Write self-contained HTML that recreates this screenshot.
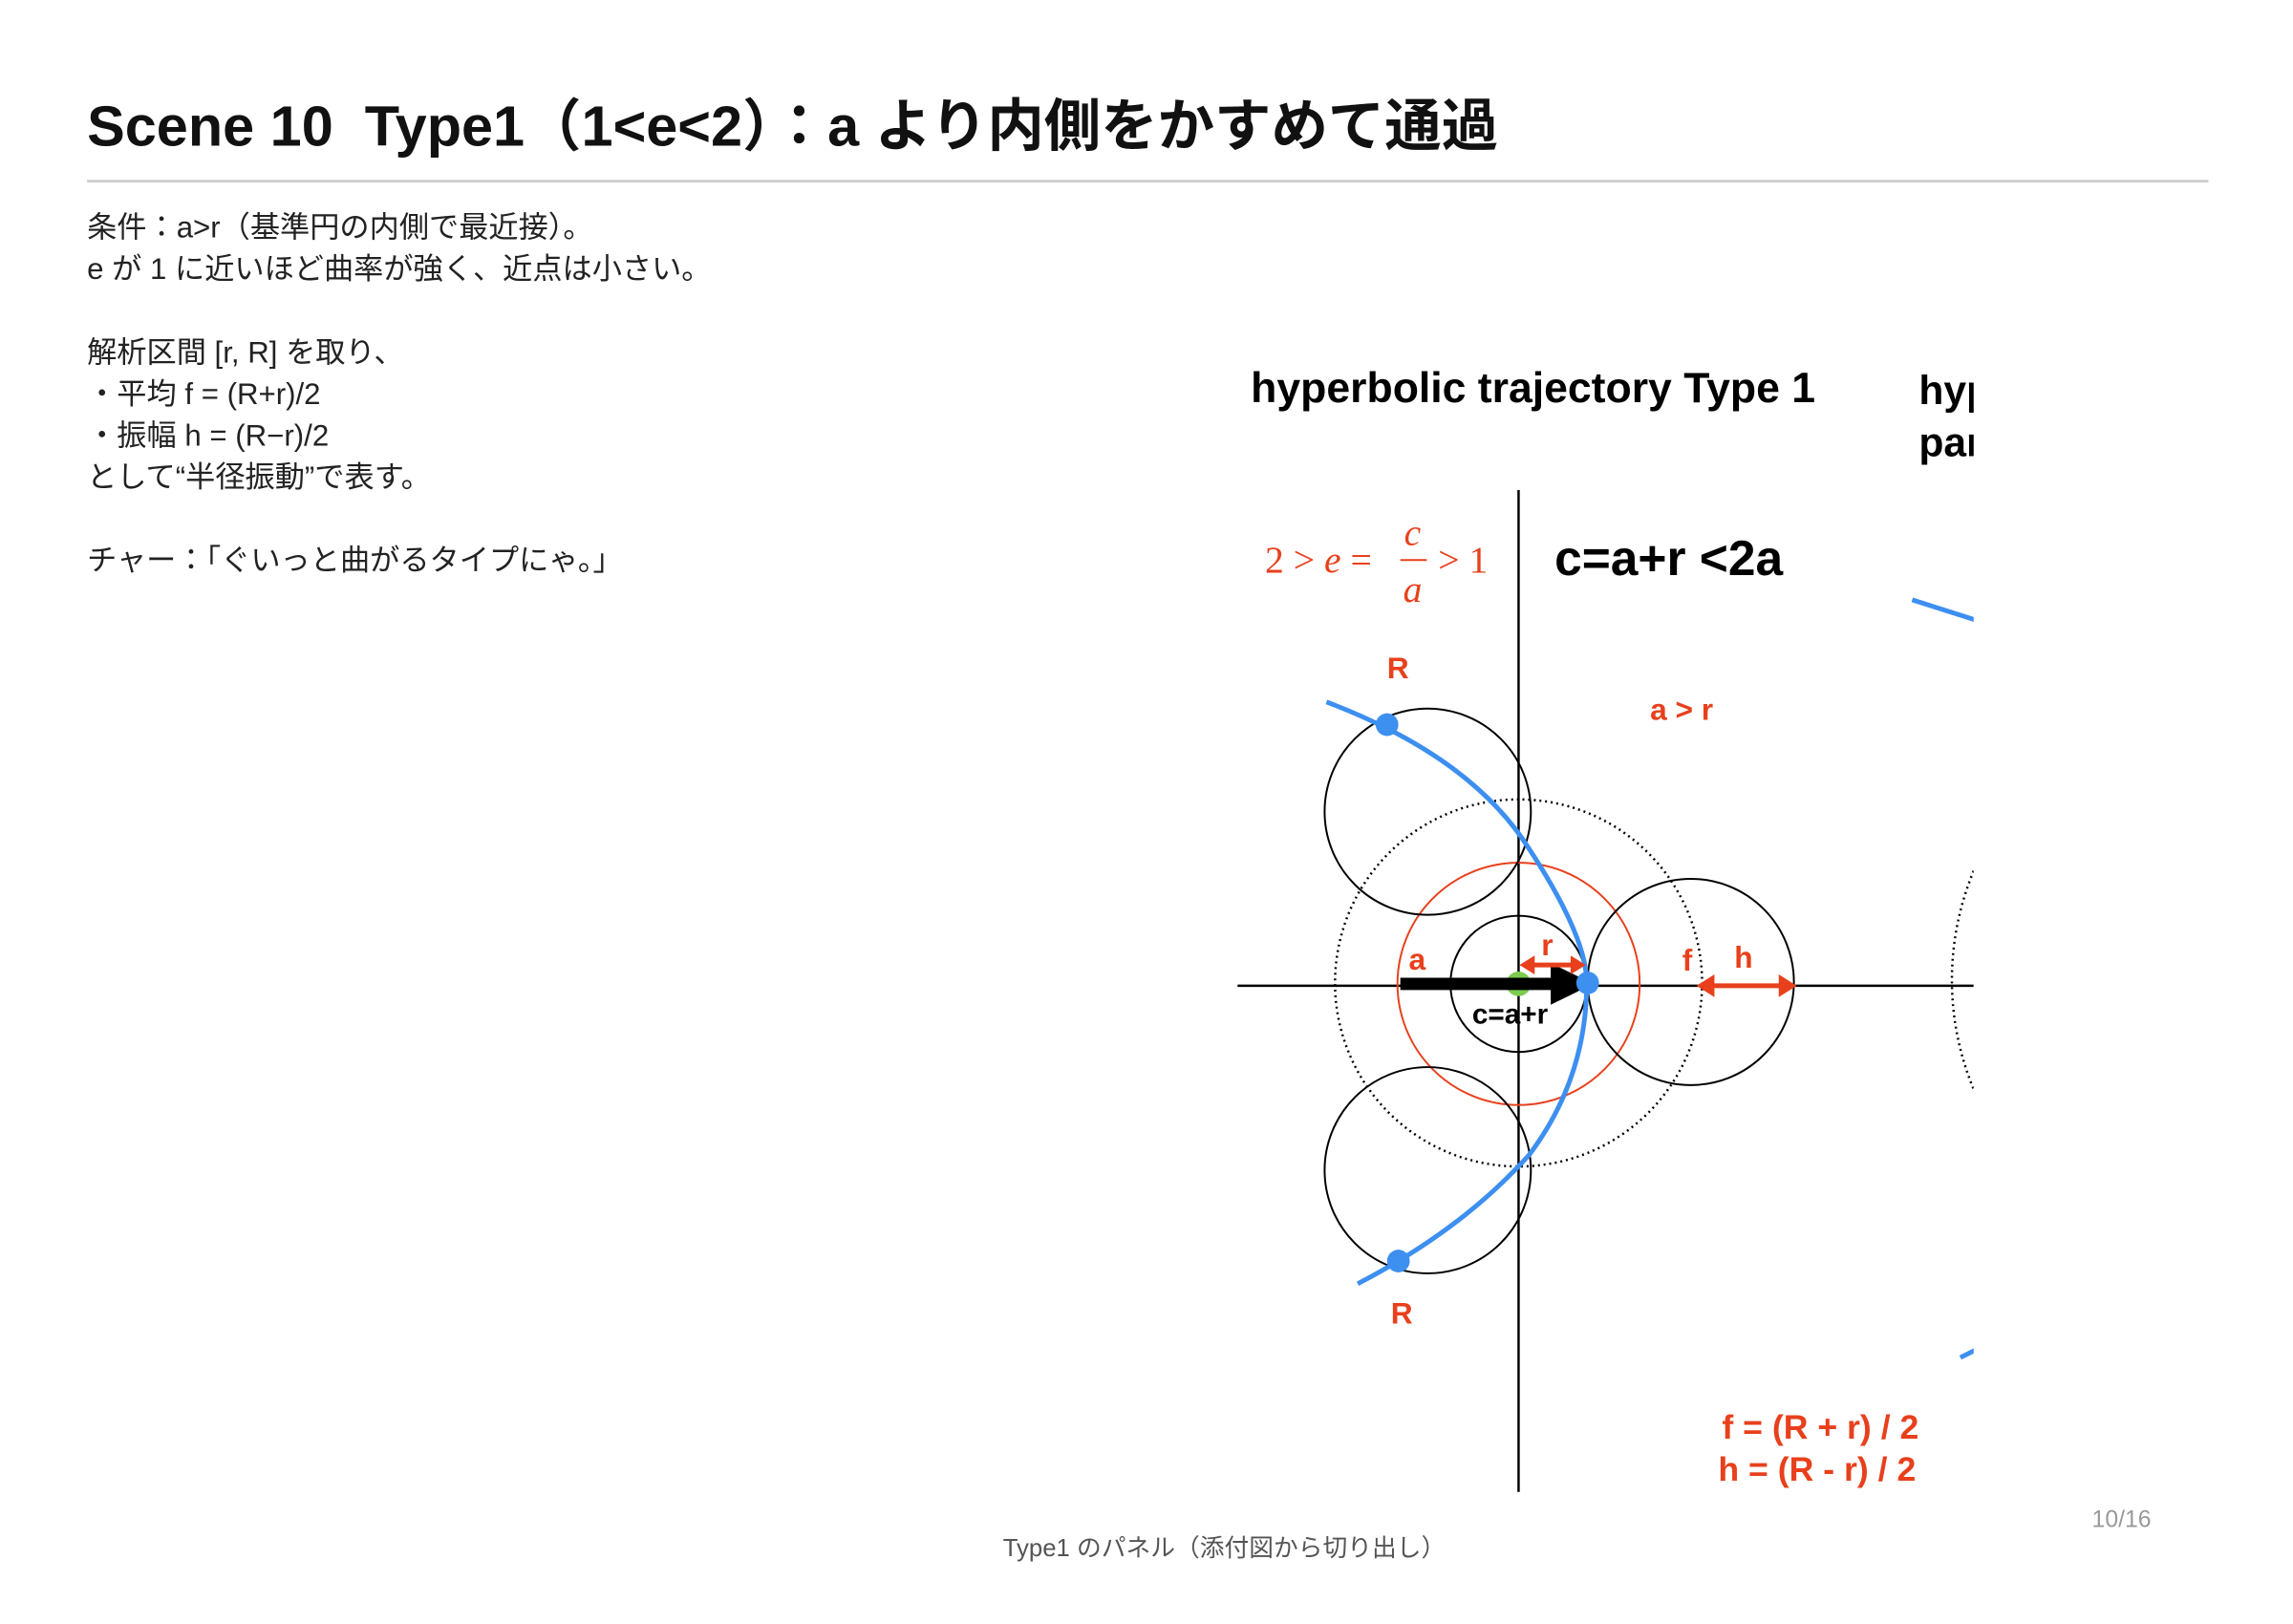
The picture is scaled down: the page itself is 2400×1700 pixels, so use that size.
<!DOCTYPE html>
<html><head><meta charset="utf-8"><style>
html,body{margin:0;padding:0;background:#fff;}
body{width:2400px;height:1700px;overflow:hidden;position:relative;font-family:"Liberation Sans","Noto Sans CJK JP",sans-serif;}
#w{position:absolute;left:0;top:0;width:2424px;height:1717px;transform:scale(0.9903);transform-origin:0 0;}
.t{position:absolute;white-space:nowrap;}
</style></head><body><div id="w">
<div class="t" style="left:92px;top:99px;font-size:60px;font-weight:bold;color:#111;line-height:70px;">Scene 10&nbsp; Type1（1&lt;e&lt;2）：a より内側をかすめて通過</div>
<div style="position:absolute;left:92px;top:190px;width:2242px;height:3px;background:#cfcfcf;"></div>
<div class="t" style="left:92px;top:218px;font-size:31.5px;line-height:44px;color:#222;">条件：a&gt;r（基準円の内側で最近接）。<br>e が 1 に近いほど曲率が強く、近点は小さい。<br><br>解析区間 [r, R] を取り、<br>・平均 f = (R+r)/2<br>・振幅 h = (R−r)/2<br>として“半径振動”で表す。<br><br>チャー：「ぐいっと曲がるタイプにゃ。」</div>
<div class="t" style="left:1060px;top:1616px;font-size:26px;color:#555;">Type1 のパネル（添付図から切り出し）</div>
<div class="t" style="left:2211px;top:1592px;font-size:25px;color:#999;">10/16</div>
<svg style="position:absolute;left:0;top:0" width="2424" height="1717" viewBox="0 0 2424 1717">
<defs><clipPath id="c"><rect x="1280" y="350" width="806" height="1260"/></clipPath></defs>
<g clip-path="url(#c)">
<text x="1322" y="425" font-family="Liberation Sans,sans-serif" font-weight="bold" font-size="45" fill="#000">hyperbolic trajectory Type 1</text>
<text x="2028" y="427" font-family="Liberation Sans,sans-serif" font-weight="bold" font-size="43" fill="#000">hyperbolic</text>
<text x="2028" y="482" font-family="Liberation Sans,sans-serif" font-weight="bold" font-size="43" fill="#000">parabola</text>
<line x1="1605" y1="518" x2="1605" y2="1577" stroke="#000" stroke-width="2.5"/>
<line x1="1308" y1="1042" x2="2086" y2="1042" stroke="#000" stroke-width="2.5"/>
<g font-family="Liberation Serif,serif" fill="#e8401c" font-size="40">
<text x="1337" y="605">2 &gt; <tspan font-style="italic">e</tspan> =</text>
<text x="1484" y="576" font-style="italic">c</text>
<line x1="1480" y1="592" x2="1508" y2="592" stroke="#e8401c" stroke-width="2"/>
<text x="1483" y="636" font-style="italic">a</text>
<text x="1520" y="605">&gt; 1</text>
</g>
<text x="1643" y="608" font-family="Liberation Sans,sans-serif" font-weight="bold" font-size="52" fill="#000">c=a+r &lt;2a</text>
<line x1="2021" y1="634" x2="2090" y2="656" stroke="#3d8ff0" stroke-width="5"/>
<line x1="2072" y1="1435" x2="2090" y2="1426" stroke="#3d8ff0" stroke-width="5"/>
<g font-family="Liberation Sans,sans-serif" font-weight="bold" fill="#e8401c" font-size="32">
<text x="1466" y="717">R</text>
<text x="1744" y="761">a &gt; r</text>
<text x="1470" y="1399">R</text>
<text x="1489" y="1025">a</text>
<text x="1629" y="1010">r</text>
<text x="1778" y="1026">f</text>
<text x="1833" y="1023">h</text>
<text x="1820" y="1521" font-size="36">f = (R + r) / 2</text>
<text x="1816" y="1565" font-size="36">h = (R - r) / 2</text>
</g>
<circle cx="1605" cy="1039" r="194" fill="none" stroke="#000" stroke-width="2.5" stroke-dasharray="2 4"/>
<circle cx="2364" cy="1036" r="301" fill="none" stroke="#000" stroke-width="2.5" stroke-dasharray="2 4"/>
<circle cx="1605" cy="1040" r="128" fill="none" stroke="#e8401c" stroke-width="2"/>
<circle cx="1605" cy="1040" r="72" fill="none" stroke="#000" stroke-width="2"/>
<circle cx="1509" cy="858" r="109" fill="none" stroke="#000" stroke-width="2"/>
<circle cx="1509" cy="1237" r="109" fill="none" stroke="#000" stroke-width="2"/>
<circle cx="1787" cy="1038" r="109" fill="none" stroke="#000" stroke-width="2"/>
<path d="M1402,742 Q1555,800 1616,897 Q1677,990 1677,1039 Q1677,1140 1616,1221 Q1545,1300 1435,1357" fill="none" stroke="#3d8ff0" stroke-width="5"/>
<circle cx="1466" cy="766" r="12" fill="#3d8ff0"/>
<circle cx="1478" cy="1333" r="12" fill="#3d8ff0"/>
<circle cx="1605" cy="1040" r="13" fill="#7ccc4f"/>
<line x1="1480" y1="1040" x2="1645" y2="1040" stroke="#000" stroke-width="13"/>
<polygon points="1639,1018 1684,1040 1639,1062" fill="#000"/>
<circle cx="1678" cy="1039" r="12" fill="#3d8ff0"/>
<line x1="1620" y1="1020" x2="1662" y2="1020" stroke="#e8401c" stroke-width="5"/>
<polygon points="1606,1020 1622,1010 1622,1030" fill="#e8401c"/>
<polygon points="1676,1020 1660,1010 1660,1030" fill="#e8401c"/>
<line x1="1808" y1="1042" x2="1884" y2="1042" stroke="#e8401c" stroke-width="5"/>
<polygon points="1793,1042 1812,1030 1812,1054" fill="#e8401c"/>
<polygon points="1899,1042 1880,1030 1880,1054" fill="#e8401c"/>
<text x="1556" y="1082" font-family="Liberation Sans,sans-serif" font-weight="bold" font-size="30" fill="#000">c=a+r</text>
</g>
</svg>
</div></body></html>
